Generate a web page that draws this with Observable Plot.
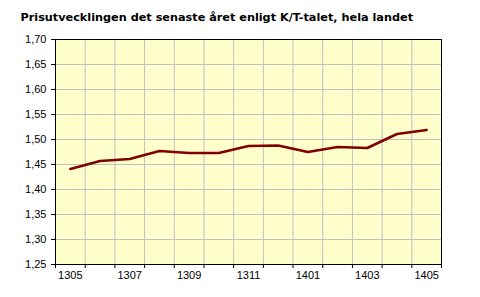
<!DOCTYPE html>
<html>
<head>
<meta charset="utf-8">
<script src="https://cdn.jsdelivr.net/npm/d3@7"></script>
<script src="https://cdn.jsdelivr.net/npm/@observablehq/plot@0.6"></script>
<style>
  html, body { margin: 0; padding: 0; background: #fff; }
</style>
</head>
<body>
<div id="chart"></div>
<script>
const title = "Prisutvecklingen det senaste året enligt K/T-talet, hela landet";
const months = ["1305","1306","1307","1308","1309","1310","1311","1312","1401","1402","1403","1404","1405"];
const values = [1.441, 1.457, 1.461, 1.477, 1.473, 1.473, 1.487, 1.488, 1.475, 1.485, 1.483, 1.511, 1.519];
const yTicks = [1.25, 1.30, 1.35, 1.40, 1.45, 1.50, 1.55, 1.60, 1.65, 1.70];
const xLabels = ["1305","1307","1309","1311","1401","1403","1405"];

const data = months.map((m, i) => ({i, m, v: values[i]}));
const boundaries = d3.range(months.length + 1).map(k => k - 0.5);
const innerBoundaries = boundaries.slice(1, -1);
const labelIdx = xLabels.map(l => months.indexOf(l));

const chart = Plot.plot({
  width: 480,
  height: 297,
  marginLeft: 55,
  marginRight: 39,
  marginTop: 39,
  marginBottom: 33,
  style: {fontFamily: "'Liberation Sans', Arial, sans-serif", fontSize: "11px", background: "#fff", color: "#000"},
  x: {type: "linear", domain: [-0.5, months.length - 0.5], label: null},
  y: {domain: [1.25, 1.70], label: null},
  marks: [
    Plot.frame({fill: "#FFFFCC"}),
    Plot.gridY(yTicks, {stroke: "#c0c0c0", strokeOpacity: 1, strokeWidth: 1}),
    Plot.gridX(innerBoundaries, {stroke: "#c0c0c0", strokeOpacity: 1, strokeWidth: 1}),
    Plot.frame({stroke: "#000", strokeWidth: 1}),
    Plot.axisY(yTicks, {tickSize: 4, tickPadding: 5, tickFormat: d => d.toFixed(2).replace(".", ","), fontSize: 11, stroke: "#000", label: null}),
    Plot.axisX(boundaries, {tickSize: 4, tickFormat: () => "", stroke: "#000", label: null}),
    Plot.axisX(labelIdx, {tickSize: 0, tickPadding: 7, tickFormat: i => months[i], fontSize: 11, label: null}),
    Plot.line(data, {x: "i", y: "v", stroke: "#800000", strokeWidth: 2.5}),
    Plot.text([title], {frameAnchor: "top-left", dx: -35, dy: -19, textAnchor: "start", lineAnchor: "bottom",
      fontFamily: "'DejaVu Sans', Verdana, sans-serif", fontWeight: "bold", fontSize: 11.25, fill: "#000"})
  ]
});
document.getElementById("chart").appendChild(chart);
</script>
</body>
</html>
